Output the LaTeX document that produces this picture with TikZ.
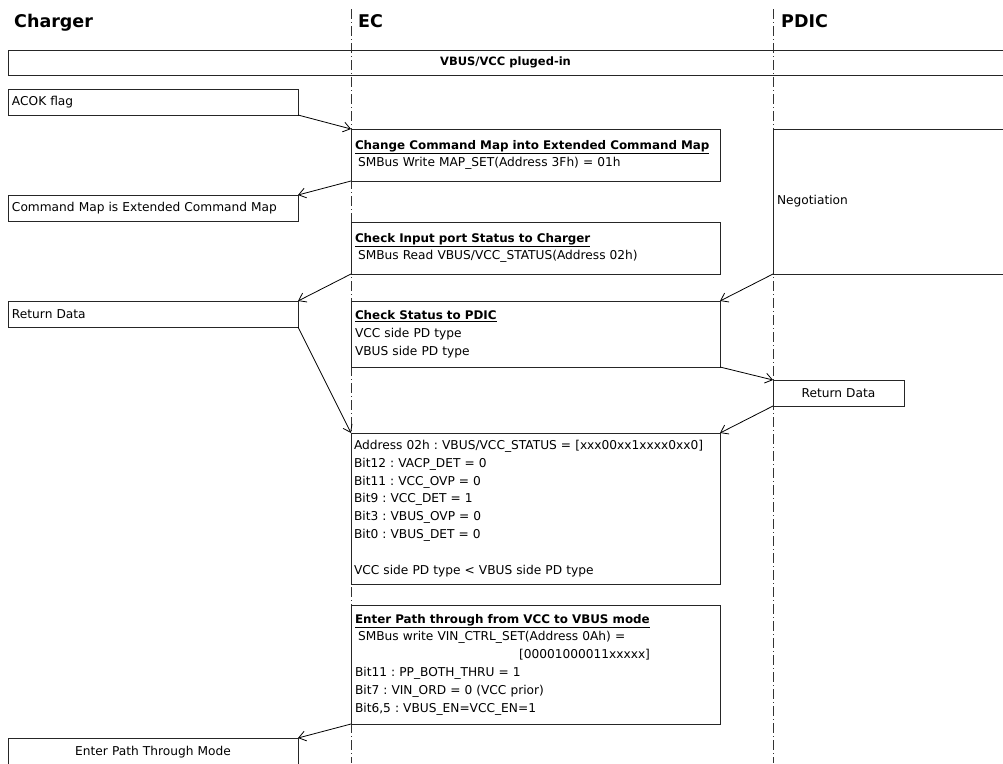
\documentclass[tikz,border=0pt]{standalone}
\usepackage{fontspec}
\setmainfont{DejaVu Sans}
\usetikzlibrary{arrows.meta}
\frenchspacing
\newcommand{\boxtitle}[1]{{\fontsize{11.9}{17.8}\selectfont\bfseries\underline{#1}}}
\begin{document}
\begin{tikzpicture}[x=1pt,y=-1pt,
  box/.style={draw=black!85, line width=0.9pt, anchor=north west, inner sep=0pt, outer sep=0pt,
    font=\fontsize{12.2}{17.8}\selectfont},
  life/.style={black!80, line width=0.8pt, dash pattern=on 10pt off 3pt on 1pt off 3pt},
  msg/.style={black, line width=0.8pt, -{Straight Barb[length=7pt,width=10pt]}},
  head/.style={anchor=base west, inner sep=0pt, font=\fontsize{17.5}{20}\bfseries\selectfont},
]
\useasboundingbox (0,0) rectangle (1003,763);
\clip (0,0) rectangle (1003,763);

% lifelines
\coordinate (ectop) at (351,9);
\coordinate (ecbot) at (351,763);
\coordinate (pdtop) at (773,9);
\coordinate (pdbot) at (773,763);
\draw[life] (ectop) -- (ecbot);
\draw[life] (pdtop) -- (pdbot);

% headers
\node[head] (hch) at (14,27) {Charger};
\node[head] (hec) at (358,27) {EC};
\node[head] (hpd) at (781,27) {PDIC};

% full-width bar
\node[box, minimum width=995pt, minimum height=25pt, align=center,
  font=\fontsize{11.5}{14}\bfseries\selectfont] (bar) at (8,50) {VBUS/VCC pluged-in};

% charger boxes
\node[box, minimum width=290pt, minimum height=26pt, text width=282pt, align=left] (acok) at (8,89) {ACOK flag};
\node[box, minimum width=290pt, minimum height=26pt, text width=282pt, align=left] (cmd) at (8,195) {Command Map is Extended Command Map};
\node[box, minimum width=290pt, minimum height=26pt, text width=282pt, align=left] (ret1) at (8,301) {Return Data};
\node[box, minimum width=290pt, minimum height=28pt, text width=282pt, align=center] (ept) at (8,738) {Enter Path Through Mode};

% EC boxes
\node[box, minimum width=369pt, minimum height=52pt, text width=361pt, align=left] (chg) at (351,129)
  {\boxtitle{Change Command Map into Extended Command Map}\\
   \hspace*{3pt}SMBus Write MAP\_SET(Address 3Fh) = 01h};
\node[box, minimum width=369pt, minimum height=52pt, text width=361pt, align=left] (chk) at (351,222)
  {\boxtitle{Check Input port Status to Charger}\\
   \hspace*{3pt}SMBus Read VBUS/VCC\_STATUS(Address 02h)};
\node[box, minimum width=369pt, minimum height=66pt, text width=361pt, align=left] (stat) at (351,301)
  {\boxtitle{Check Status to PDIC}\\
   VCC side PD type\\
   VBUS side PD type};
\node[box, minimum width=369pt, minimum height=151pt, text width=363pt, align=left] (big) at (351,433)
  {Address 02h : VBUS/VCC\_STATUS = [xxx00xx1xxxx0xx0]\\
   Bit12 : VACP\_DET = 0\\
   Bit11 : VCC\_OVP = 0\\
   Bit9 : VCC\_DET = 1\\
   Bit3 : VBUS\_OVP = 0\\
   Bit0 : VBUS\_DET = 0\\[17.8pt]
   VCC side PD type < VBUS side PD type};
\node[box, minimum width=369pt, minimum height=119pt, text width=361pt, align=left] (path) at (351,605)
  {\boxtitle{Enter Path through from VCC to VBUS mode}\\
   \hspace*{3pt}SMBus write VIN\_CTRL\_SET(Address 0Ah) =\\
   \hspace*{164pt}[00001000011xxxxx]\\
   Bit11 : PP\_BOTH\_THRU = 1\\
   Bit7 : VIN\_ORD = 0 (VCC prior)\\
   Bit6,5 : VBUS\_EN=VCC\_EN=1};

% PDIC boxes
\node[box, minimum width=240pt, minimum height=145pt, text width=232pt, align=left] (neg) at (773,129) {Negotiation};
\node[box, minimum width=131pt, minimum height=26pt, text width=123pt, align=center] (ret2) at (773,380) {Return Data};

% messages
\draw[msg] (acok.south east) -- (chg.north west);
\draw[msg] (chg.south west) -- (cmd.north east);
\draw[msg] (chk.south west) -- (ret1.north east);
\draw[msg] (neg.south west) -- (stat.north east);
\draw[msg] (stat.south east) -- (ret2.north west);
\draw[msg] (ret2.south west) -- (big.north east);
\draw[msg] (ret1.south east) -- (big.north west);
\draw[msg] (path.south west) -- (ept.north east);
\end{tikzpicture}
\end{document}
